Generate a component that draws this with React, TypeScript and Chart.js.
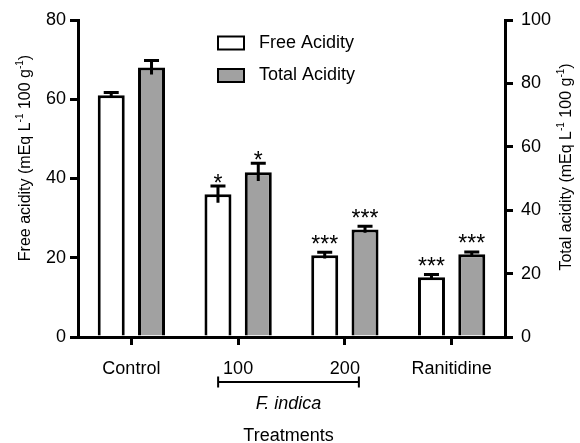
import React, { useEffect, useRef } from "react";
import { Chart, registerables } from "chart.js";

Chart.register(...registerables);

const categories = ["Control", "100", "200", "Ranitidine"];
const freeAcidity = [61, 36, 20.6, 15.1];
const freeErr = [0.7, 2.1, 0.8, 0.7];
const totalAcidity = [85, 52, 33.9, 26.1];
const totalErr = [2.2, 2.8, 1.0, 0.7];
const freeStars = ["", "*", "***", "***"];
const totalStars = ["", "*", "***", "***"];
const leftTicksMax = 80;
const rightTicksMax = 100;

const FONT = '"Liberation Sans", Arial, sans-serif';
const GRAY = "#a1a1a1";

type Seg = { t: string; sup?: boolean };

function drawRich(ctx: CanvasRenderingContext2D, segs: Seg[], cx: number, cy: number, size: number) {
  const supSize = Math.round(size * 0.6);
  ctx.save();
  let w = 0;
  for (const s of segs) {
    ctx.font = `${s.sup ? supSize : size}px ${FONT}`;
    w += ctx.measureText(s.t).width;
  }
  ctx.translate(cx, cy);
  ctx.rotate(-Math.PI / 2);
  ctx.fillStyle = "#000";
  ctx.textBaseline = "alphabetic";
  ctx.textAlign = "left";
  let x = -w / 2;
  const base = size * 0.36;
  for (const s of segs) {
    ctx.font = `${s.sup ? supSize : size}px ${FONT}`;
    ctx.fillText(s.t, x, s.sup ? base - size * 0.45 : base);
    x += ctx.measureText(s.t).width;
  }
  ctx.restore();
}

const extrasPlugin = {
  id: "extras",
  afterDatasetsDraw(chart: any) {
    const ctx: CanvasRenderingContext2D = chart.ctx;
    const sets = [
      { err: freeErr, stars: freeStars, axis: "y" },
      { err: totalErr, stars: totalStars, axis: "y2" },
    ];
    sets.forEach((s, di) => {
      const meta = chart.getDatasetMeta(di);
      const scale = chart.scales[s.axis];
      const vals = chart.data.datasets[di].data as number[];
      meta.data.forEach((el: any, i: number) => {
        const v = vals[i];
        const e = s.err[i];
        const yTop = scale.getPixelForValue(v + e);
        const yBot = scale.getPixelForValue(v - e);
        ctx.save();
        ctx.strokeStyle = "#000";
        ctx.lineWidth = 3;
        ctx.beginPath();
        ctx.moveTo(el.x, yBot);
        ctx.lineTo(el.x, yTop);
        ctx.moveTo(el.x - 7.5, yTop);
        ctx.lineTo(el.x + 7.5, yTop);
        ctx.stroke();
        const lab = s.stars[i];
        if (lab) {
          ctx.fillStyle = "#000";
          ctx.font = `23px ${FONT}`;
          ctx.textAlign = "center";
          ctx.textBaseline = "alphabetic";
          const gap = lab.length === 1 ? 3.5 : 9;
          ctx.fillText(lab, el.x, yTop - 1.5 - gap + 23 * 0.43);
        }
        ctx.restore();
      });
    });
  },
  afterDraw(chart: any) {
    const ctx: CanvasRenderingContext2D = chart.ctx;
    ctx.save();
    // legend
    const items = [
      { label: "Free Acidity", fill: "#ffffff", y: 43 },
      { label: "Total Acidity", fill: GRAY, y: 75.5 },
    ];
    items.forEach((it) => {
      ctx.fillStyle = it.fill;
      ctx.fillRect(218, it.y - 6.5, 26, 13);
      ctx.strokeStyle = "#000";
      ctx.lineWidth = 2;
      ctx.strokeRect(218, it.y - 6.5, 26, 13);
      ctx.fillStyle = "#000";
      ctx.font = `18px ${FONT}`;
      ctx.textAlign = "left";
      ctx.textBaseline = "middle";
      ctx.fillText(it.label, 259, it.y);
    });
    // bracket under F. indica
    const xs = chart.scales.x;
    const x1 = xs.getPixelForValue(1) - 20;
    const x2 = xs.getPixelForValue(2) + 14;
    const by = 382;
    ctx.strokeStyle = "#000";
    ctx.lineWidth = 2;
    ctx.beginPath();
    ctx.moveTo(x1, by);
    ctx.lineTo(x2, by);
    ctx.moveTo(x1, by - 5.5);
    ctx.lineTo(x1, by + 5.5);
    ctx.moveTo(x2, by - 5.5);
    ctx.lineTo(x2, by + 5.5);
    ctx.stroke();
    const mid = (x1 + x2) / 2;
    ctx.fillStyle = "#000";
    ctx.textAlign = "center";
    ctx.textBaseline = "middle";
    ctx.font = `italic 18px ${FONT}`;
    ctx.fillText("F. indica", mid, 404);
    ctx.font = `18px ${FONT}`;
    ctx.fillText("Treatments", mid, 436);
    ctx.restore();
    // axis titles
    drawRich(
      ctx,
      [{ t: "Free acidity (mEq L" }, { t: "-1", sup: true }, { t: " 100 g" }, { t: "-1", sup: true }, { t: ")" }],
      24,
      158,
      16
    );
    drawRich(
      ctx,
      [{ t: "Total acidity (mEq L" }, { t: "-1", sup: true }, { t: " 100 g" }, { t: "-1", sup: true }, { t: ")" }],
      565,
      167,
      16
    );
  },
};

export default function App() {
  const ref = useRef<HTMLCanvasElement | null>(null);
  useEffect(() => {
    document.body.style.margin = "0";
    const canvas = ref.current!;
    const tickFont = { family: FONT, size: 18 };
    const chart = new Chart(canvas, {
      type: "bar",
      data: {
        labels: categories,
        datasets: [
          {
            label: "Free Acidity",
            data: freeAcidity,
            backgroundColor: "#ffffff",
            borderColor: "#000000",
            borderWidth: 3,
            yAxisID: "y",
            categoryPercentage: 0.755,
            barPercentage: 0.67,
          },
          {
            label: "Total Acidity",
            data: totalAcidity,
            backgroundColor: GRAY,
            borderColor: "#000000",
            borderWidth: 3,
            yAxisID: "y2",
            categoryPercentage: 0.755,
            barPercentage: 0.67,
          },
        ],
      },
      options: {
        responsive: false,
        animation: false,
        layout: { padding: { top: 20, left: 0, right: 0, bottom: 0 } },
        plugins: { legend: { display: false }, tooltip: { enabled: false }, title: { display: false } },
        scales: {
          x: {
            type: "category",
            offset: true,
            grid: { display: true, drawOnChartArea: false, drawTicks: true, tickLength: 8, color: "#000", lineWidth: 3, offset: false },
            border: { display: true, color: "#000", width: 3 },
            ticks: { font: tickFont, color: "#000", padding: 13, maxRotation: 0 },
            afterFit: (s: any) => {
              s.height = 106;
            },
          },
          y: {
            position: "left",
            min: 0,
            max: leftTicksMax,
            grid: { display: true, drawOnChartArea: false, drawTicks: true, tickLength: 8, color: "#000", lineWidth: 3 },
            border: { display: true, color: "#000", width: 3 },
            ticks: { stepSize: 20, font: tickFont, color: "#000", padding: 4 },
            afterFit: (s: any) => {
              s.width = 78;
            },
          },
          y2: {
            position: "right",
            min: 0,
            max: rightTicksMax,
            grid: { display: true, drawOnChartArea: false, drawTicks: true, tickLength: 8, color: "#000", lineWidth: 3 },
            border: { display: true, color: "#000", width: 3 },
            ticks: { stepSize: 20, font: tickFont, color: "#000", padding: 8 },
            afterFit: (s: any) => {
              s.width = 75;
            },
          },
        },
      },
      plugins: [extrasPlugin],
    });
    return () => chart.destroy();
  }, []);
  return <canvas ref={ref} width={580} height={443} style={{ display: "block" }} />;
}
